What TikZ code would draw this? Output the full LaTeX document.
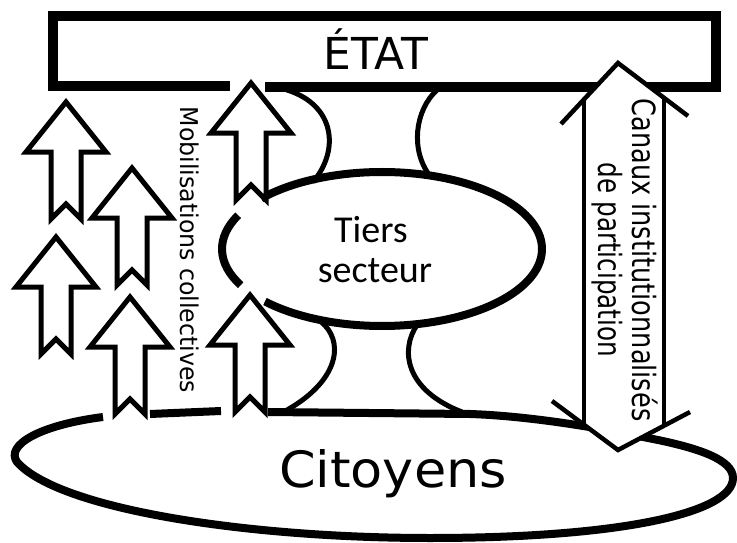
\documentclass[tikz,border=0pt]{standalone}
\usepackage{graphicx}
\usepackage{fontspec}
\setmainfont{DejaVu Sans}
\newfontfamily\carlitofont{Carlito}
\usetikzlibrary{calc}
\begin{document}
\begin{tikzpicture}[x=1pt,y=-1pt,line join=miter,
  boxline/.style={line width=10pt},
  ovalline/.style={line width=8pt},
  stemline/.style={line width=5pt},
  arrowline/.style={line width=5pt,fill=white},
  dblline/.style={line width=4.5pt},
  mobarrow/.pic={\draw[arrowline] (0,0) -- (40,50) -- (15,50) -- (15,117) -- (0,102) -- (-15,117) -- (-15,50) -- (-40,50) -- cycle;}
]
\useasboundingbox (0,0) rectangle (737,543);

% ETAT box (gap for the arrow)
\draw[boxline] (230,86) -- (53,86) -- (53,16) -- (716,16) -- (716,87) -- (265,87);

% stems of the third sector
\draw[stemline] (287,90) .. controls (335,105) and (340,150) .. (313,182);
\draw[stemline] (437,90) .. controls (415,110) and (410,150) .. (430,176);
\draw[stemline] (320,321) .. controls (345,340) and (340,380) .. (287,410);
\draw[stemline] (417,325) .. controls (400,350) and (405,390) .. (462,412);

% Tiers secteur oval
\coordinate (tc) at (382,249);
\draw[ovalline] ($(tc)+(221:160 and 77)$) arc[start angle=221,end angle=497,x radius=160,y radius=77];
\draw[ovalline] ($(tc)+(152:160 and 77)$) arc[start angle=152,end angle=206,x radius=160,y radius=77];

% Citoyens oval
\draw[ovalline] (268,412) -- (470,414) .. controls (530,416) and (600,428) .. (648,438)
  .. controls (700,448) and (733,460) .. (733,478)
  .. controls (733,513) and (620,538) .. (430,538)
  .. controls (250,538) and (60,510) .. (17,462)
  .. controls (5,445) and (40,425) .. (103,417);
\draw[ovalline] (150,414) -- (221,411);

% mobilisation arrows
\pic at (66,102) {mobarrow};
\pic at (132,168) {mobarrow};
\pic at (56,237) {mobarrow};
\pic at (130,297) {mobarrow};
\pic at (251,83) {mobarrow};
\pic at (250,295) {mobarrow};

% double arrow: institutional channels
\coordinate (dtop) at (618,63);
\coordinate (dbot) at (618,450);
\fill[white] (dtop) -- (584,99.4) -- (584,424.8) -- (dbot) -- (664,425.7) -- (664,97.8) -- cycle;
\draw[dblline] (561,124) -- (dtop) -- (688,116);
\draw[dblline] (552,401) -- (dbot) -- (690,412);
\draw[dblline] (584,99.4) -- (584,424.8);
\draw[dblline] (664,97.8) -- (664,425.7);

% texts
\node[font=\fontsize{44}{50}\selectfont,anchor=base,inner sep=0pt] (etat) at (376,70) {ÉTAT};
\node[font=\fontsize{50}{56}\selectfont,anchor=base,inner sep=0pt] (citoyens) at (393,487) {\scalebox{1.05}[1]{Citoyens}};
\node[font=\carlitofont\fontsize{38}{40}\selectfont,anchor=base,inner sep=0pt] (tiers) at (371,242) {Tiers};
\node[font=\carlitofont\fontsize{38}{40}\selectfont,anchor=base,inner sep=0pt] (secteur) at (375,282) {secteur};
\node[font=\fontsize{24.5}{28}\selectfont,rotate=-90,anchor=base,inner sep=0pt] (mobil) at (180,250) {\scalebox{0.965}[1]{Mobilisations collectives}};
\node[font=\fontsize{32}{34}\selectfont,rotate=-90,anchor=base,inner sep=0pt] (canaux1) at (632,260) {\scalebox{0.8}[1]{Canaux institutionnalisés}};
\node[font=\fontsize{32}{34}\selectfont,rotate=-90,anchor=base,inner sep=0pt] (canaux2) at (598,260) {\scalebox{0.77}[1]{de participation}};
\end{tikzpicture}
\end{document}
